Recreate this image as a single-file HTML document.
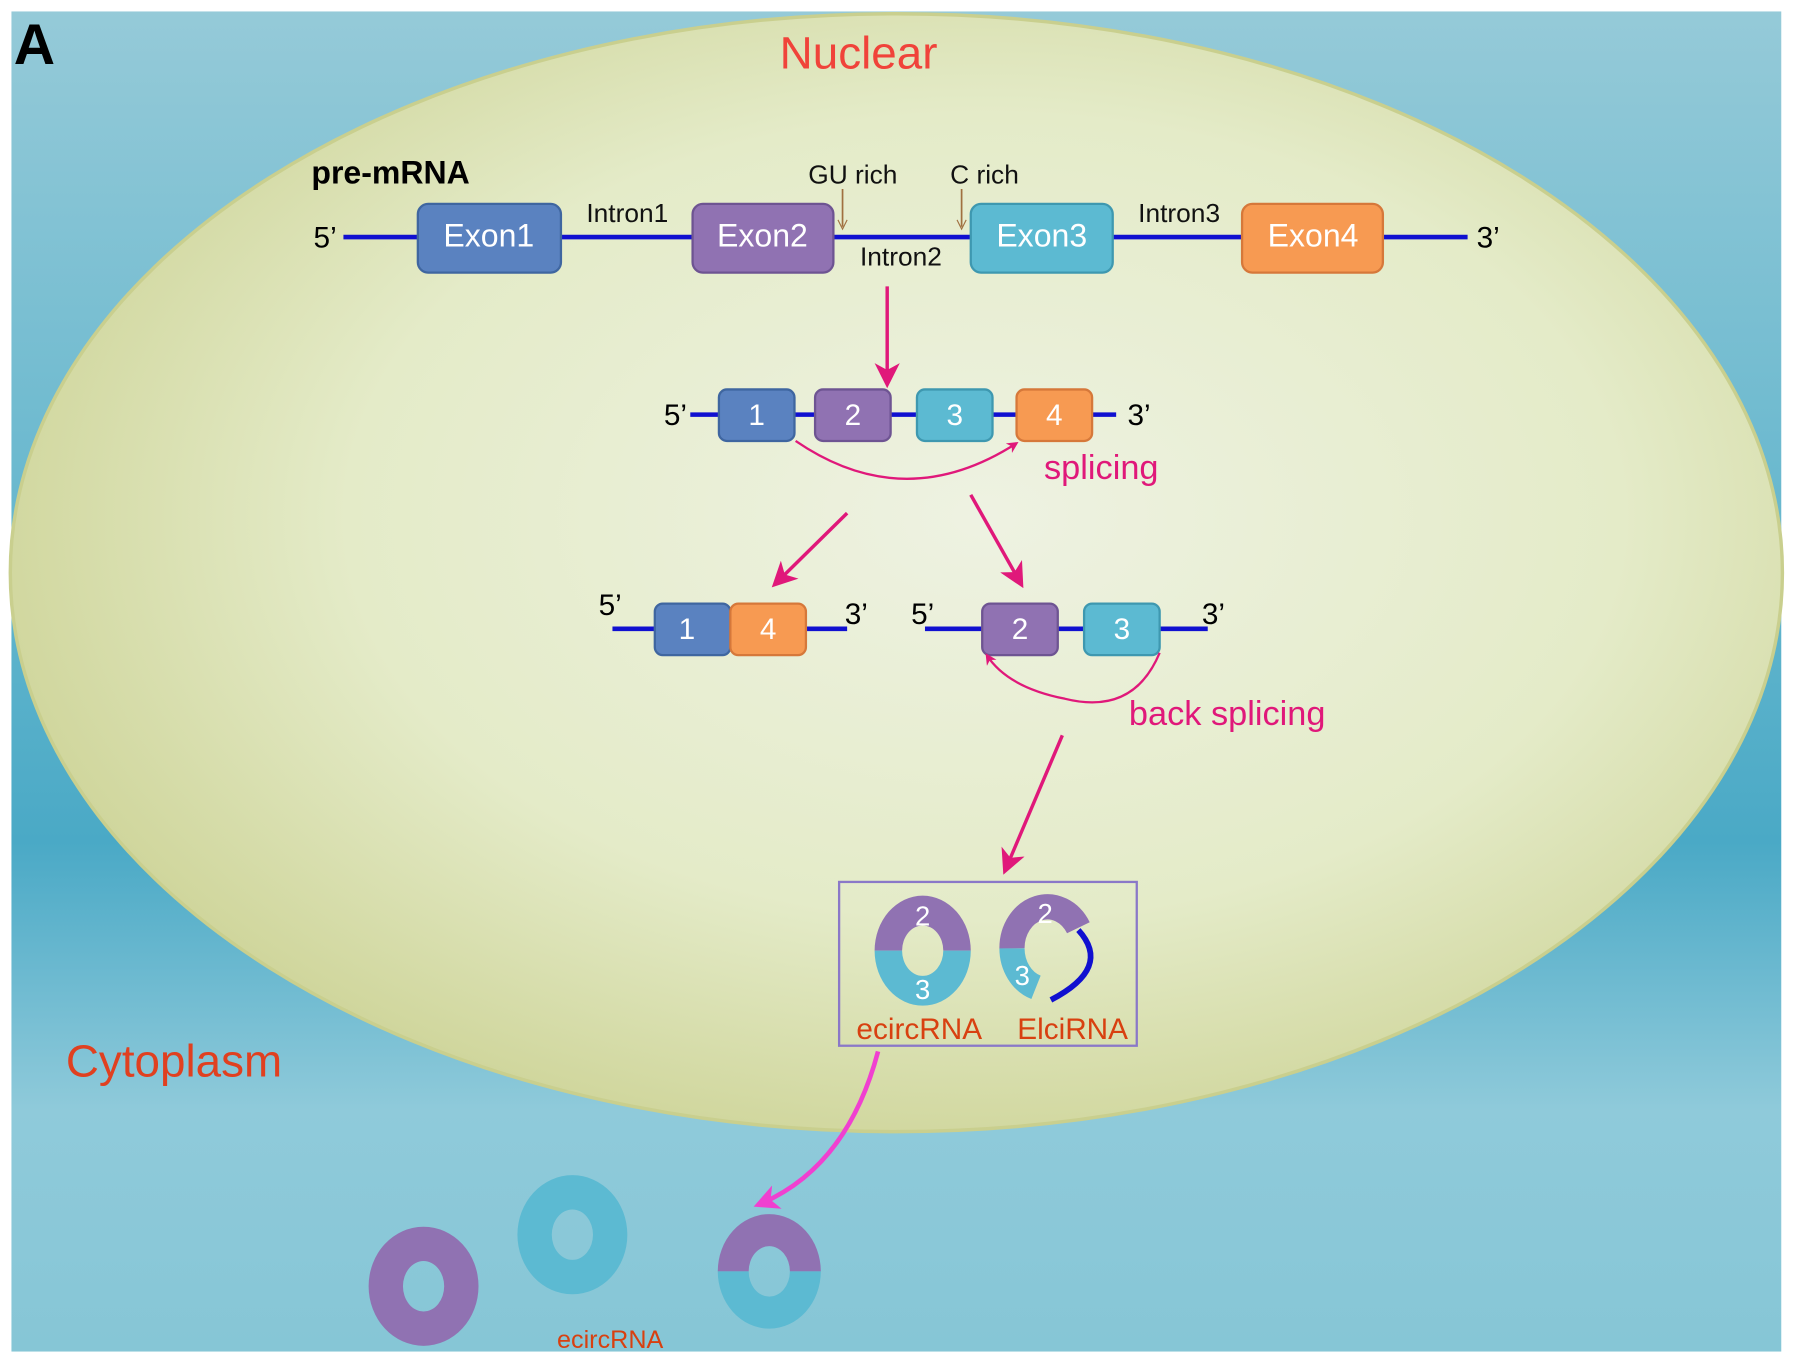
<!DOCTYPE html>
<html><head><style>html,body{margin:0;padding:0;background:#fff}svg{display:block}</style></head>
<body>
<svg width="1795" height="1363" viewBox="0 0 1568 1190" preserveAspectRatio="none" xmlns="http://www.w3.org/2000/svg" font-family="Liberation Sans, sans-serif">
<defs>
<linearGradient id="bg" x1="0" y1="0" x2="0" y2="1">
<stop offset="0" stop-color="#95cad8"/><stop offset="0.45" stop-color="#5fb4cc"/><stop offset="0.62" stop-color="#4aa9c6"/><stop offset="0.82" stop-color="#8fcada"/><stop offset="1" stop-color="#86c6d6"/></linearGradient>
<radialGradient id="el" cx="0.55" cy="0.45" r="0.6">
<stop offset="0" stop-color="#eef2e2"/><stop offset="0.6" stop-color="#e4ebc8"/><stop offset="1" stop-color="#cdd396"/></radialGradient>
<marker id="ah" markerWidth="10" markerHeight="10" refX="8" refY="5" orient="auto" markerUnits="userSpaceOnUse"><path d="M0,0 L10,5 L0,10 L3,5Z" fill="#e0187a"/></marker>
<marker id="ah2" markerWidth="22" markerHeight="22" refX="18" refY="11" orient="auto" markerUnits="userSpaceOnUse"><path d="M0,0 L22,11 L0,22 L6,11Z" fill="#e0187a"/></marker>
<marker id="ah3" markerWidth="22" markerHeight="22" refX="18" refY="11" orient="auto" markerUnits="userSpaceOnUse"><path d="M0,0 L22,11 L0,22 L6,11Z" fill="#f040d0"/></marker>
</defs>
<rect x="10" y="10" width="1546" height="1170" fill="url(#bg)"/>
<ellipse cx="783" cy="500" rx="774" ry="488" fill="url(#el)" stroke="#c9cf8e" stroke-width="3"/>
<text x="12" y="56" font-size="50" font-weight="bold">A</text>
<text x="750" y="60" font-size="40" fill="#f0433a" text-anchor="middle">Nuclear</text>
<text x="272" y="160" font-size="28" font-weight="bold">pre-mRNA</text>
<line x1="300" y1="207" x2="1282" y2="207" stroke="#1010d0" stroke-width="4"/>
<g font-size="28" fill="#fff" text-anchor="middle">
<rect x="365" y="178" width="125" height="60" rx="9" fill="#5a82c0" stroke="#3f66a0" stroke-width="2"/><text x="427" y="215">Exon1</text>
<rect x="605" y="178" width="123" height="60" rx="9" fill="#9072b2" stroke="#6e5492" stroke-width="2"/><text x="666" y="215">Exon2</text>
<rect x="848" y="178" width="124" height="60" rx="9" fill="#5cbad2" stroke="#3e98b0" stroke-width="2"/><text x="910" y="215">Exon3</text>
<rect x="1085" y="178" width="123" height="60" rx="9" fill="#f79a52" stroke="#d6783a" stroke-width="2"/><text x="1147" y="215">Exon4</text>
</g>
<g font-size="23" fill="#111" text-anchor="middle">
<text x="548" y="194">Intron1</text><text x="745" y="160">GU rich</text><text x="860" y="160">C rich</text>
<text x="787" y="232">Intron2</text><text x="1030" y="194">Intron3</text></g>
<text x="284" y="216" font-size="26" text-anchor="middle">5’</text>
<text x="1300" y="216" font-size="26" text-anchor="middle">3’</text>
<line x1="736" y1="165" x2="736" y2="198" stroke="#a07040" stroke-width="1.5"/><path d="M732,192 L736,200 L740,192" fill="none" stroke="#a07040"/>
<line x1="840" y1="165" x2="840" y2="198" stroke="#a07040" stroke-width="1.5"/><path d="M836,192 L840,200 L844,192" fill="none" stroke="#a07040"/>
<line x1="775" y1="250" x2="775" y2="335" stroke="#e0187a" stroke-width="3" marker-end="url(#ah2)"/>
<line x1="603" y1="362" x2="975" y2="362" stroke="#1010d0" stroke-width="4"/>
<g font-size="26" fill="#fff" text-anchor="middle">
<rect x="628" y="340" width="66" height="45" rx="7" fill="#5a82c0" stroke="#3f66a0" stroke-width="2"/><text x="661" y="371">1</text>
<rect x="712" y="340" width="66" height="45" rx="7" fill="#9072b2" stroke="#6e5492" stroke-width="2"/><text x="745" y="371">2</text>
<rect x="801" y="340" width="66" height="45" rx="7" fill="#5cbad2" stroke="#3e98b0" stroke-width="2"/><text x="834" y="371">3</text>
<rect x="888" y="340" width="66" height="45" rx="7" fill="#f79a52" stroke="#d6783a" stroke-width="2"/><text x="921" y="371">4</text>
</g>
<text x="590" y="371" font-size="26" text-anchor="middle">5’</text><text x="995" y="371" font-size="26" text-anchor="middle">3’</text>
<path d="M695,385 Q790,450 888,387" fill="none" stroke="#e0187a" stroke-width="2" marker-end="url(#ah)"/>
<text x="962" y="418" font-size="30" fill="#e0187a" text-anchor="middle">splicing</text>
<line x1="740" y1="448" x2="677" y2="510" stroke="#e0187a" stroke-width="3" marker-end="url(#ah2)"/>
<line x1="848" y1="432" x2="892" y2="510" stroke="#e0187a" stroke-width="3" marker-end="url(#ah2)"/>
<line x1="535" y1="549" x2="740" y2="549" stroke="#1010d0" stroke-width="4"/>
<line x1="808" y1="549" x2="1055" y2="549" stroke="#1010d0" stroke-width="4"/>
<g font-size="26" fill="#fff" text-anchor="middle">
<rect x="572" y="527" width="66" height="45" rx="7" fill="#5a82c0" stroke="#3f66a0" stroke-width="2"/><text x="600" y="558">1</text>
<rect x="638" y="527" width="66" height="45" rx="7" fill="#f79a52" stroke="#d6783a" stroke-width="2"/><text x="671" y="558">4</text>
<rect x="858" y="527" width="66" height="45" rx="7" fill="#9072b2" stroke="#6e5492" stroke-width="2"/><text x="891" y="558">2</text>
<rect x="947" y="527" width="66" height="45" rx="7" fill="#5cbad2" stroke="#3e98b0" stroke-width="2"/><text x="980" y="558">3</text>
</g>
<g font-size="26" text-anchor="middle"><text x="533" y="537">5’</text><text x="748" y="545">3’</text><text x="806" y="545">5’</text><text x="1060" y="545">3’</text></g>
<path d="M1013,570 Q990,625 930,610 Q880,600 862,572" fill="none" stroke="#e0187a" stroke-width="2" marker-end="url(#ah)"/>
<text x="1072" y="633" font-size="30" fill="#e0187a" text-anchor="middle">back splicing</text>
<line x1="928" y1="642" x2="878" y2="760" stroke="#e0187a" stroke-width="3" marker-end="url(#ah2)"/>
<rect x="733" y="770" width="260" height="143" fill="none" stroke="#8a78c8" stroke-width="2"/>
<path d="M764,830 A42,48 0 0 1 848,830 L824,830 A18,22 0 0 0 788,830Z" fill="#9072b2"/>
<path d="M764,830 A42,48 0 0 0 848,830 L824,830 A18,22 0 0 1 788,830Z" fill="#5cbad2"/>
<text x="806" y="808" font-size="24" fill="#fff" text-anchor="middle">2</text><text x="806" y="872" font-size="24" fill="#fff" text-anchor="middle">3</text>
<path d="M884,828 A31,36 0 0 1 942,810" fill="none" stroke="#9072b2" stroke-width="22"/>
<path d="M884,828 A31,36 0 0 0 905,862" fill="none" stroke="#5cbad2" stroke-width="22"/>
<path d="M942,812 Q972,845 918,873" fill="none" stroke="#1010d0" stroke-width="5"/>
<text x="913" y="806" font-size="24" fill="#fff" text-anchor="middle">2</text><text x="893" y="860" font-size="24" fill="#fff" text-anchor="middle">3</text>
<text x="803" y="907" font-size="26" fill="#d84010" text-anchor="middle">ecircRNA</text>
<text x="937" y="907" font-size="26" fill="#d84010" text-anchor="middle">ElciRNA</text>
<text x="152" y="940" font-size="40" fill="#e04020" text-anchor="middle">Cytoplasm</text>
<path d="M767,918 Q740,1020 662,1052" fill="none" stroke="#f040d0" stroke-width="4" marker-end="url(#ah3)"/>
<path fill-rule="evenodd" d="M322,1123 a48,52 0 1 0 96,0 a48,52 0 1 0 -96,0Z M352,1123 a18,22 0 1 0 36,0 a18,22 0 1 0 -36,0Z" fill="#9072b2"/>
<path fill-rule="evenodd" d="M452,1078 a48,52 0 1 0 96,0 a48,52 0 1 0 -96,0Z M482,1078 a18,22 0 1 0 36,0 a18,22 0 1 0 -36,0Z" fill="#5cbad2"/>
<path d="M627,1110 A45,50 0 0 1 717,1110 L690,1110 A18,22 0 0 0 654,1110Z" fill="#9072b2"/>
<path d="M627,1110 A45,50 0 0 0 717,1110 L690,1110 A18,22 0 0 1 654,1110Z" fill="#5cbad2"/>
<text x="533" y="1177" font-size="22" fill="#d84010" text-anchor="middle">ecircRNA</text>
</svg>
</body></html>
